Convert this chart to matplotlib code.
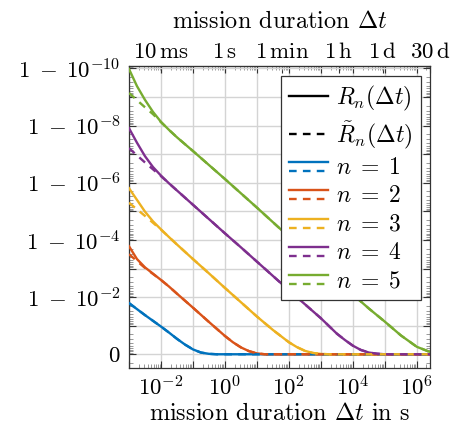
import numpy as np
import matplotlib
matplotlib.use("Agg")
import matplotlib.pyplot as plt
from matplotlib.lines import Line2D
from matplotlib.legend_handler import HandlerBase
from matplotlib.ticker import FixedLocator, NullFormatter, FixedFormatter

plt.rcParams['font.family'] = ['cmr10']
plt.rcParams['mathtext.fontset'] = 'cm'
plt.rcParams['axes.formatter.use_mathtext'] = True
plt.rcParams['lines.scale_dashes'] = False

# ---- data (log10 of mission duration in s, and y = -log10(1-R)) ----
blue_logt = [-3, -2.75, -2.5, -2.25, -2, -1.75, -1.5, -1.25, -1, -0.75, -0.5, -0.25, 0, 6.41]
blue_y = [1.79, 1.58, 1.37, 1.17, 0.97, 0.76, 0.54, 0.34, 0.17, 0.06, 0.015, 0.0, 0.0, 0.0]
blue_yd = blue_y

red_logt = [-3, -2.75, -2.5, -2.25, -2, -1.75, -1.5, -1, -0.5, 0, 0.25, 0.5, 0.75, 1, 1.25, 6.41]
red_y = [3.78, 3.33, 3.04, 2.82, 2.6, 2.37, 2.12, 1.63, 1.13, 0.64, 0.42, 0.24, 0.11, 0.03, 0.0, 0.0]
red_yd = [3.5, 3.26, 3.02, 2.81, 2.6, 2.37, 2.12, 1.63, 1.13, 0.64, 0.42, 0.24, 0.11, 0.03, 0.0, 0.0]

yellow_logt = [-3, -2.75, -2.5, -2.25, -2, -1.75, -1.5, -1, -0.5, 0, 0.5, 1, 1.5, 2, 2.25, 2.5, 2.75, 3, 3.25, 6.41]
yellow_y = [5.81, 5.4, 4.99, 4.65, 4.37, 4.1, 3.84, 3.33, 2.83, 2.32, 1.82, 1.32, 0.85, 0.42, 0.25, 0.12, 0.045, 0.012, 0.0, 0.0]
yellow_yd = [5.3, 5.07, 4.84, 4.6, 4.36, 4.1, 3.84, 3.33, 2.83, 2.32, 1.82, 1.32, 0.85, 0.42, 0.25, 0.12, 0.045, 0.012, 0.0, 0.0]

purple_logt = [-3, -2.75, -2.5, -2.25, -2, -1.75, -1.5, -1, -0.5, 0, 0.5, 1, 1.5, 2, 2.5, 3, 3.5, 3.75, 4, 4.25, 4.5, 4.75, 5, 6.41]
purple_y = [7.91, 7.4, 6.93, 6.55, 6.25, 5.98, 5.73, 5.23, 4.73, 4.23, 3.74, 3.24, 2.74, 2.24, 1.75, 1.26, 0.72, 0.5, 0.3, 0.15, 0.06, 0.02, 0.0, 0.0]
purple_yd = [7.21, 6.96, 6.71, 6.47, 6.23, 5.98, 5.73, 5.23, 4.73, 4.23, 3.74, 3.24, 2.74, 2.24, 1.75, 1.26, 0.72, 0.5, 0.3, 0.15, 0.06, 0.02, 0.0, 0.0]

green_logt = [-3, -2.75, -2.5, -2.25, -2, -1.75, -1.5, -1, -0.5, 0, 0.5, 1, 1.5, 2, 2.5, 3, 3.5, 4, 4.5, 5, 5.5, 6, 6.41]
green_y = [9.98, 9.38, 8.9, 8.48, 8.13, 7.85, 7.59, 7.11, 6.62, 6.13, 5.63, 5.13, 4.62, 4.11, 3.6, 3.1, 2.6, 2.09, 1.6, 1.14, 0.66, 0.26, 0.08]
green_yd = [9.14, 8.89, 8.64, 8.4, 8.12, 7.85, 7.59, 7.11, 6.62, 6.13, 5.63, 5.13, 4.62, 4.11, 3.6, 3.1, 2.6, 2.09, 1.6, 1.14, 0.66, 0.26, 0.08]

series = [
    (r"$n\;=\;1$", "#0072BD", blue_logt, blue_y, blue_yd),
    (r"$n\;=\;2$", "#D95319", red_logt, red_y, red_yd),
    (r"$n\;=\;3$", "#EDB120", yellow_logt, yellow_y, yellow_yd),
    (r"$n\;=\;4$", "#7E2F8E", purple_logt, purple_y, purple_yd),
    (r"$n\;=\;5$", "#77AC30", green_logt, green_y, green_yd),
]

y_major = list(range(0, 11))
y_labels = ["$0$", "", r"$1\;-\;10^{-2}$", "", r"$1\;-\;10^{-4}$", "", r"$1\;-\;10^{-6}$", "",
            r"$1\;-\;10^{-8}$", "", r"$1\;-\;10^{-10}$"]
x_major_exp = list(range(-3, 7))
top_ticks = [0.01, 1, 60, 3600, 86400, 2592000]
top_labels = [r"$10\,\mathrm{ms}$", r"$1\,\mathrm{s}$", r"$1\,\mathrm{min}$",
              r"$1\,\mathrm{h}$", r"$1\,\mathrm{d}$", r"$30\,\mathrm{d}$"]

FS = 16.5
FS_LAB = 17.5
FS_LEG = 17
LW = 1.7
DASH = (0, (5.5, 4.5))

fig = plt.figure(figsize=(4.59, 4.36), dpi=100)
ax = fig.add_axes([0.281, 0.156, 0.656, 0.693])
ax.set_xscale('log')

for lab, col, lt, ys, yd in series:
    ax.plot(10 ** np.array(lt), ys, color=col, lw=LW, zorder=3)
for lab, col, lt, ys, yd in series:
    ax.plot(10 ** np.array(lt), yd, color=col, lw=LW, ls=DASH, zorder=3)

ax.set_xlim(1e-3, 2592000)
ax.set_ylim(-0.48, 10.09)

# x ticks
xmaj = [10.0 ** e for e in x_major_exp]
ax.xaxis.set_major_locator(FixedLocator(xmaj))
ax.xaxis.set_major_formatter(FixedFormatter(
    ["" if e % 2 else r"$10^{%d}$" % e for e in x_major_exp]))
xmin = [k * 10.0 ** e for e in range(-4, 7) for k in range(2, 10)]
ax.xaxis.set_minor_locator(FixedLocator(xmin))
ax.xaxis.set_minor_formatter(NullFormatter())

# y ticks
ax.yaxis.set_major_locator(FixedLocator(y_major))
ax.yaxis.set_major_formatter(FixedFormatter(y_labels))
ymin = [m + 1 - np.log10(k) for m in range(-1, 11) for k in range(2, 10)]
ax.yaxis.set_minor_locator(FixedLocator(ymin))

ax.grid(True, which='major', color='#d4d4d4', lw=1.0, zorder=0)
ax.set_axisbelow(True)
ax.tick_params(which='both', direction='in', top=True, right=True, labelsize=FS)
ax.tick_params(which='major', length=5, width=0.8, color='#333333')
ax.tick_params(which='minor', length=3, width=0.6, color='#888888')
ax.tick_params(axis='y', pad=6)
ax.tick_params(axis='x', pad=5)
for s in ax.spines.values():
    s.set_color('#333333')
    s.set_linewidth(0.9)

ax.set_xlabel(r"mission duration $\Delta t$ in s", fontsize=FS_LAB, labelpad=3)

sec = ax.secondary_xaxis('top')
sec.set_xticks(top_ticks)
sec.set_xticklabels(top_labels)
sec.xaxis.set_minor_locator(FixedLocator([]))
sec.tick_params(which='major', direction='in', length=5, width=0.8, color='#333333', labelsize=FS, pad=3)
sec.set_xlabel(r"mission duration $\Delta t$", fontsize=FS_LAB, labelpad=10)


class TwoLineHandler(HandlerBase):
    def create_artists(self, legend, orig_handle, xdescent, ydescent,
                       width, height, fontsize, trans):
        col = orig_handle.get_color()
        x0, x1 = -xdescent, width - xdescent
        y_top = -ydescent + 0.72 * height
        y_bot = -ydescent + 0.18 * height
        l1 = Line2D([x0, x1], [y_top, y_top], color=col, lw=LW, transform=trans)
        l2 = Line2D([x0, x1], [y_bot, y_bot], color=col, lw=LW, ls=DASH, transform=trans)
        return [l1, l2]


h_solid = Line2D([], [], color='k', lw=LW)
h_dash = Line2D([], [], color='k', lw=LW, ls=DASH)
proxies = [Line2D([], [], color=col) for _, col, _, _, _ in series]
handles = [h_solid, h_dash] + proxies
labels = [r"$R_n(\Delta t)$", r"$\tilde{R}_n(\Delta t)$"] + [s[0] for s in series]
hmap = {p: TwoLineHandler() for p in proxies}
leg = ax.legend(handles, labels, handler_map=hmap, loc='upper right',
                bbox_to_anchor=(0.97, 0.968), fontsize=FS_LEG, frameon=True,
                fancybox=False, framealpha=1, edgecolor='#333333',
                handlelength=1.65, handletextpad=0.35, labelspacing=0.26,
                borderpad=0.35, borderaxespad=0.0)
leg.get_frame().set_linewidth(0.9)
leg.set_zorder(5)

fig.savefig("out.png", dpi=100)
